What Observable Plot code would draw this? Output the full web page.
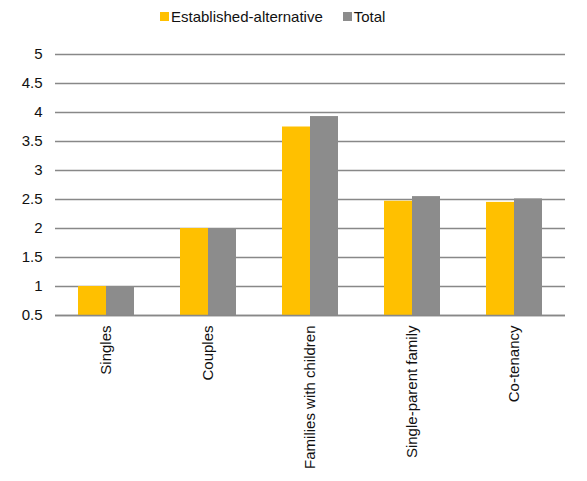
<!DOCTYPE html>
<html>
<head>
<meta charset="utf-8">
<script src="https://cdn.jsdelivr.net/npm/d3@7"></script>
<script src="https://cdn.jsdelivr.net/npm/@observablehq/plot@0.6"></script>
<style>
  html, body { margin: 0; padding: 0; background: #fff; }
  body { width: 587px; font-family: "Liberation Sans", Arial, sans-serif; }
  #legend { height: 32px; display: flex; justify-content: flex-start; align-items: center; gap: 20px; font-size: 15px; color: #111; padding-left: 160px; box-sizing: border-box; }
  #legend .item { display: flex; align-items: center; gap: 2px; }
  #legend .sw { width: 9px; height: 9px; display: inline-block; }
</style>
</head>
<body>
<div id="legend"></div>
<div id="chart"></div>
<script>
const categories = ["Singles", "Couples", "Families with children", "Single-parent family", "Co-tenancy"];
const seriesNames = ["Established-alternative", "Total"];
const establishedValues = [1, 2, 3.75, 2.47, 2.45];
const totalValues = [1, 2, 3.93, 2.55, 2.51];
const yTicks = [0.5, 1, 1.5, 2, 2.5, 3, 3.5, 4, 4.5, 5];
const colors = ["#ffc000", "#8c8c8c"];

const rows = [];
categories.forEach((c, i) => {
  rows.push({category: c, series: seriesNames[0], value: establishedValues[i]});
  rows.push({category: c, series: seriesNames[1], value: totalValues[i]});
});

const legend = document.getElementById("legend");
seriesNames.forEach((s, i) => {
  const it = document.createElement("span");
  it.className = "item";
  it.innerHTML = `<span class="sw" style="background:${colors[i]}"></span><span>${s}</span>`;
  legend.appendChild(it);
});

const chart = Plot.plot({
  width: 587,
  height: 449,
  marginTop: 22,
  marginBottom: 166,
  marginLeft: 53,
  marginRight: 21,
  style: {fontFamily: '"Liberation Sans", Arial, sans-serif', fontSize: "15px", color: "#111", background: "#fff"},
  fx: {domain: categories, padding: 0, label: null, tickRotate: -90, tickSize: 0, tickPadding: 10, axis: "bottom"},
  x: {domain: seriesNames, paddingInner: 0, paddingOuter: 0.81, axis: null},
  y: {domain: [0.5, 5], ticks: yTicks, tickFormat: d => String(d), label: null, tickSize: 0, tickPadding: 13},
  color: {domain: seriesNames, range: colors},
  marks: [
    Plot.ruleY(yTicks, {stroke: "#888888", strokeWidth: 1.5}),
    Plot.barY(rows, {fx: "category", x: "series", y1: 0.5, y2: "value", fill: "series"}),
    Plot.ruleY([0.5], {stroke: "#888888", strokeWidth: 1.5})
  ]
});
document.getElementById("chart").appendChild(chart);
</script>
</body>
</html>
